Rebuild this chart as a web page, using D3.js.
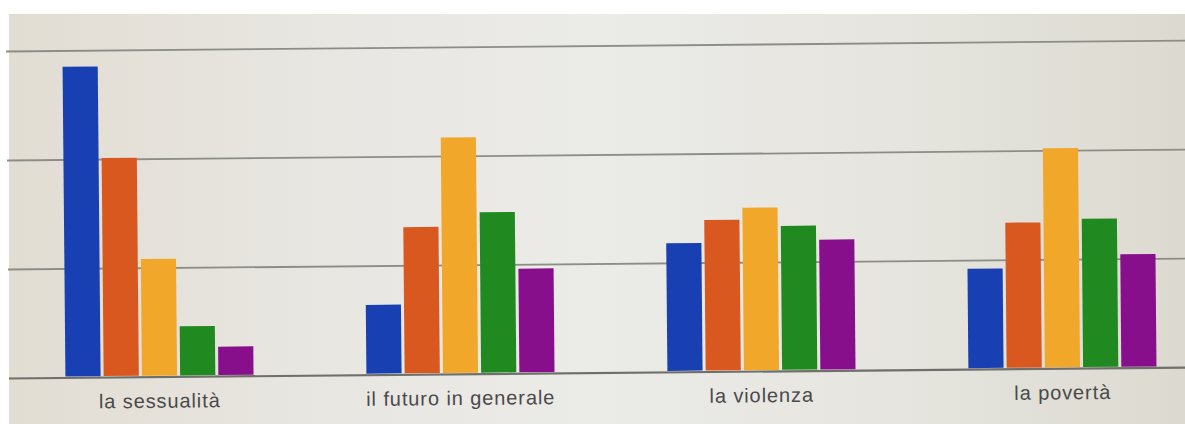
<!DOCTYPE html>
<html>
<head>
<meta charset="utf-8">
<script src="https://cdn.jsdelivr.net/npm/d3@7/dist/d3.min.js"></script>
<style>
  html, body { margin: 0; padding: 0; background: #ffffff; }
  svg { display: block; }
</style>
</head>
<body>
<svg id="chart" width="1185" height="424"></svg>
<script>
// ---- data ----
const categories = ["la sessualità", "il futuro in generale", "la violenza", "la povertà"];
const seriesNames = ["Serie 1", "Serie 2", "Serie 3", "Serie 4", "Serie 5"];
const serie1 = [28.5, 6.4, 11.8, 9.2];
const serie2 = [20.1, 13.5, 13.9, 13.4];
const serie3 = [10.8, 21.7, 15.0, 20.2];
const serie4 = [4.6, 14.8, 13.3, 13.7];
const serie5 = [2.7, 9.6, 12.0, 10.4];
const gridTicks = [0, 10, 20, 30];
const seriesColors = ["#1840b2", "#d8581f", "#f1a82a", "#208a20", "#880f8c"];

const seriesValues = [serie1, serie2, serie3, serie4, serie5];
const table = categories.map((c, i) => ({
  category: c,
  values: seriesNames.map((s, j) => ({ series: s, value: seriesValues[j][i] }))
}));

// ---- layout ----
const W = 1185, H = 424;
const plotLeft = 9, plotTop = 14;
const baseY = 378;
const svg = d3.select("#chart");

// photographed screen background
const defs = svg.append("defs");
const grad = defs.append("linearGradient").attr("id", "bg").attr("x1", "0").attr("x2", "1").attr("y1", "0").attr("y2", "0");
grad.append("stop").attr("offset", "0").attr("stop-color", "#e2ddd3");
grad.append("stop").attr("offset", "0.25").attr("stop-color", "#e8e6e1");
grad.append("stop").attr("offset", "0.5").attr("stop-color", "#ebebe8");
grad.append("stop").attr("offset", "0.75").attr("stop-color", "#e6e5df");
grad.append("stop").attr("offset", "1").attr("stop-color", "#dcdad0");
svg.append("rect").attr("x", plotLeft).attr("y", plotTop).attr("width", W - plotLeft).attr("height", H - plotTop).attr("fill", "url(#bg)");

// slight tilt of the photographed screen
const g = svg.append("g").attr("transform", `rotate(-0.53, ${plotLeft}, ${baseY})`);

const x0 = d3.scaleBand().domain(categories).range([plotLeft, plotLeft + 1204]).paddingInner(0.375).paddingOuter(0.1875);
const x1 = d3.scaleBand().domain(seriesNames).range([0, x0.bandwidth()]).paddingInner(0.08);
const y = d3.scaleLinear().domain([0, 30]).range([baseY, 51]);
const color = d3.scaleOrdinal().domain(seriesNames).range(seriesColors);

// gridlines
const grid = g.append("g").attr("transform", `translate(${plotLeft},0)`)
  .call(d3.axisLeft(y).tickValues(gridTicks).tickSize(-(W + 60)).tickFormat(""));
grid.select(".domain").remove();
grid.selectAll(".tick line")
  .attr("stroke", d => d === 0 ? "#6f6f6b" : "#8d8d88")
  .attr("stroke-width", d => d === 0 ? 2.2 : 1.8);

// bars
const groups = g.append("g").selectAll("g").data(table).join("g")
  .attr("transform", d => `translate(${x0(d.category)},0)`);
groups.selectAll("rect").data(d => d.values).join("rect")
  .attr("x", d => x1(d.series))
  .attr("y", d => y(d.value))
  .attr("width", x1.bandwidth())
  .attr("height", d => y(0) - y(d.value) - 1)
  .attr("fill", d => color(d.series));

// category axis
const xa = g.append("g").attr("transform", `translate(0,${baseY})`)
  .call(d3.axisBottom(x0).tickSize(0).tickPadding(17));
xa.select(".domain").remove();
xa.selectAll("text")
  .attr("font-family", "'Liberation Sans', Arial, sans-serif")
  .attr("font-size", 20)
  .attr("letter-spacing", "0.9px")
  .attr("fill", "#4a4a4a");
</script>
</body>
</html>
